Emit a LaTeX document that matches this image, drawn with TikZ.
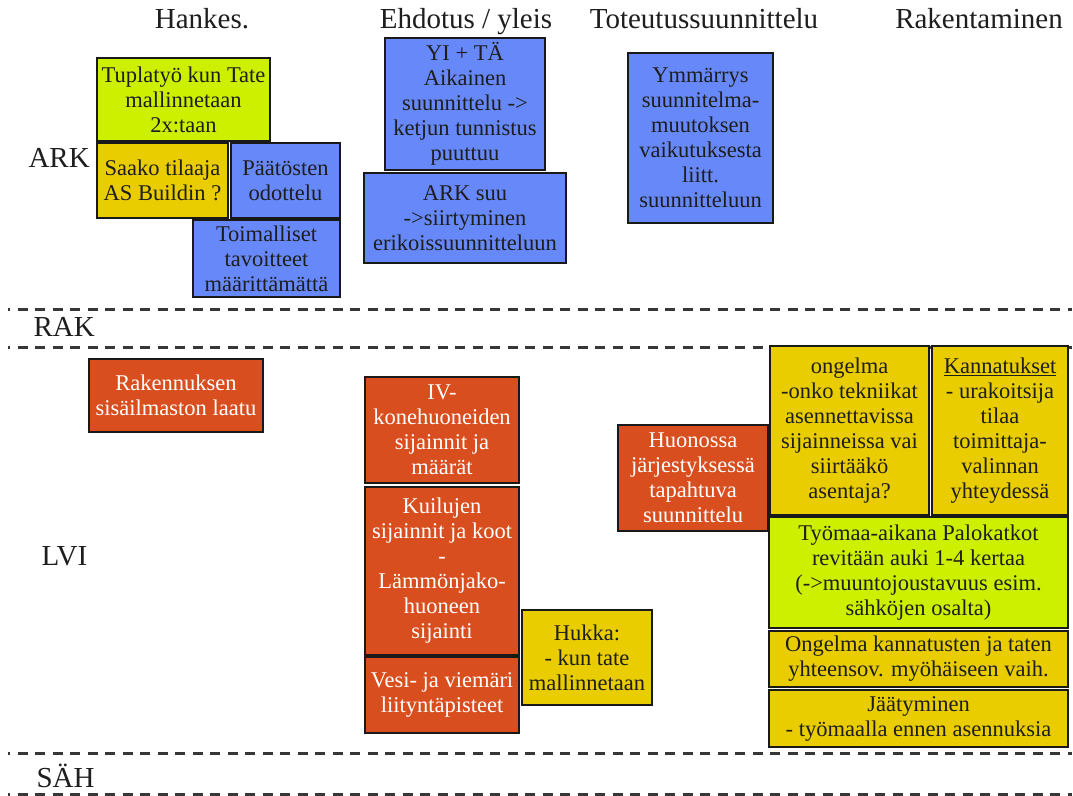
\documentclass[tikz,border=0pt]{standalone}
\usepackage{fontspec}
\setmainfont{Liberation Serif}
\definecolor{cgreen}{RGB}{204,240,0}
\definecolor{cyellow}{RGB}{233,205,0}
\definecolor{cblue}{RGB}{102,136,248}
\definecolor{corange}{RGB}{216,78,30}
\definecolor{cline}{RGB}{25,25,25}
\definecolor{ctext}{RGB}{30,30,30}
\definecolor{cdash}{RGB}{55,55,55}
\begin{document}
\begin{tikzpicture}[x=1pt,y=-1pt,
  box/.style={draw=cline, line width=2.8pt, inner sep=0pt, align=center,
    text=ctext, font=\fontsize{22.5}{25}\selectfont},
  wh/.style 2 args={minimum width=#1pt, minimum height=#2pt},
  gbox/.style={box, fill=cgreen},
  ybox/.style={box, fill=cyellow},
  bbox/.style={box, fill=cblue},
  obox/.style={box, fill=corange, text=white},
  head/.style={anchor=base, text=ctext, font=\fontsize{29}{34}\selectfont},
  row/.style={anchor=base west, text=ctext, font=\fontsize{29}{34}\selectfont},
  sep/.style={draw=cdash, line width=3pt, dash pattern=on 10pt off 7.5pt, dash phase=8pt}]
\useasboundingbox (0,0) rectangle (1073,795);
\fill[white] (0,0) rectangle (1073,795);

% headers
\node[head] (h1) at (202,28) {Hankes.};
\node[head] (h2) at (466,28) {Ehdotus / yleis};
\node[head] (h3) at (704,28) {Toteutussuunnittelu};
\node[head] (h4) at (979,28) {Rakentaminen};

% row labels
\node[row] (ark) at (25,167) {ARK};
\node[row] (rak) at (30,336) {RAK};
\node[row] (lvi) at (38,565) {LVI};
\node[row] (sah) at (33,787) {SÄH};

% separators
\draw[sep] (8,309) -- (1072,309);
\draw[sep] (8,347) -- (1072,347);
\draw[sep] (8,753) -- (1072,753);
\draw[sep] (8,794) -- (1072,794);

% ARK row
\node[gbox, wh={173}{83}] (tupla) at (183.5,99.5) {Tuplatyö kun Tate\\mallinnetaan\\2x:taan};
\node[ybox, wh={131}{75}] (saako) at (162.5,180.5) {Saako tilaaja\\AS Buildin ?};
\node[bbox, wh={109}{75}] (paat) at (285.5,180.5) {Päätösten\\odottelu};
\node[bbox, wh={147}{77}] (toim) at (266.5,258.5) {Toimalliset\\tavoitteet\\määrittämättä};
\node[bbox, wh={160}{132}] (yi) at (465,104) {YI + TÄ\\Aikainen\\suunnittelu ->\\ketjun tunnistus\\puuttuu};
\node[bbox, wh={202}{90}] (arksuu) at (465,218) {ARK suu\\->siirtyminen\\erikoissuunnitteluun};
\node[bbox, wh={145}{170}] (ymm) at (700.5,138) {Ymmärrys\\suunnitelma-\\muutoksen\\vaikutuksesta\\liitt.\\suunnitteluun};

% LVI row
\node[obox, wh={174}{73}] (raken) at (176,395.5) {Rakennuksen\\sisäilmaston laatu};
\node[obox, wh={154}{106}] (iv) at (442,430) {IV-\\konehuoneiden\\sijainnit ja\\määrät};
\node[obox, wh={154}{168}] (kuil) at (442,571) {Kuilujen\\sijainnit ja koot\\-\\Lämmönjako-\\huoneen\\sijainti};
\node[obox, wh={154}{76}] (vesi) at (442,695) {Vesi- ja viemäri\\liityntäpisteet};
\node[ybox, wh={130}{95}] (hukka) at (587,657.5) {Hukka:\\- kun tate\\mallinnetaan};
\node[obox, wh={150}{106}] (huon) at (693,478) {Huonossa\\järjestyksessä\\tapahtuva\\suunnittelu};
\node[ybox, wh={159}{169}] (ong) at (849.5,430.5) {ongelma\\-onko tekniikat\\asennettavissa\\sijainneissa vai\\siirtääkö\\asentaja?};
\node[ybox, wh={136}{169}] (kann) at (1000,430.5) {\underline{Kannatukset}\\- urakoitsija\\tilaa\\toimittaja-\\valinnan\\yhteydessä};
\node[gbox, wh={299}{111}] (tyom) at (918.5,572.5) {Työmaa-aikana Palokatkot\\revitään auki 1-4 kertaa\\(->muuntojoustavuus esim.\\sähköjen osalta)};
\node[ybox, wh={299}{56}] (ongk) at (918.5,659) {Ongelma kannatusten ja taten\\yhteensov. myöhäiseen vaih.};
\node[ybox, wh={299}{57}] (jaat) at (918.5,718.5) {Jäätyminen\\- työmaalla ennen asennuksia};
\end{tikzpicture}
\end{document}
